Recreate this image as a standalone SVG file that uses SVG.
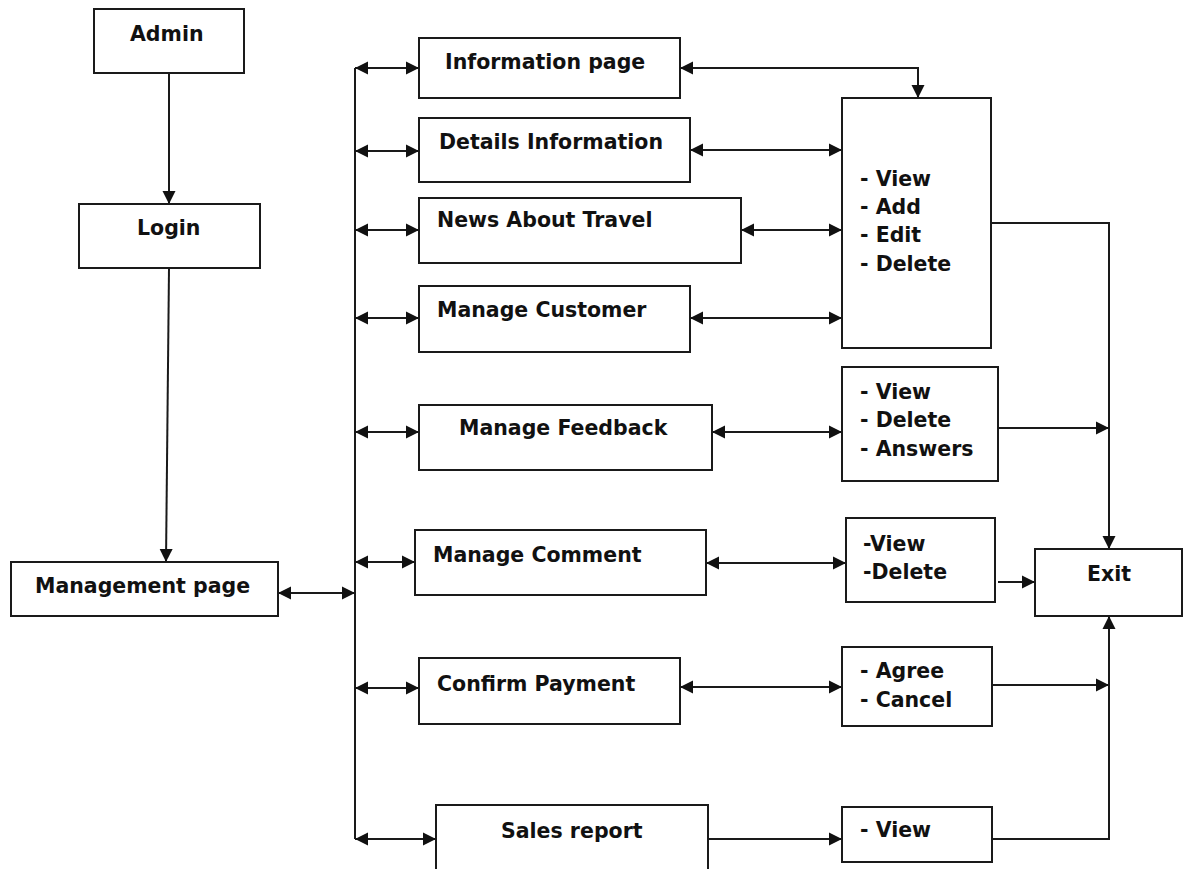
<svg xmlns="http://www.w3.org/2000/svg" width="1183" height="869" viewBox="0 0 1183 869">
<defs>
<marker id="arr" markerUnits="userSpaceOnUse" markerWidth="14" markerHeight="14" viewBox="0 0 14 14" refX="13" refY="7" orient="auto-start-reverse">
<path d="M0,0.5 L13,7 L0,13.5 Z" fill="#111"/>
</marker>
</defs>
<style>
.box{fill:#fff;stroke:#1a1a1a;stroke-width:2}
.t{font-family:"DejaVu Sans","Verdana",sans-serif;font-weight:bold;font-size:20.5px;fill:#111}
.c{fill:none;stroke:#1a1a1a;stroke-width:2}
.b{marker-start:url(#arr);marker-end:url(#arr)}
.e{marker-end:url(#arr)}
</style>
<rect width="1183" height="869" fill="#fff"/>
<g id="connectors">
<line class="c e" x1="169" y1="73" x2="169" y2="204"/>
<line class="c e" x1="169" y1="268" x2="166" y2="562"/>
<line class="c b" x1="278" y1="593" x2="355" y2="593"/>
<line class="c" x1="355" y1="68" x2="355" y2="839"/>
<line class="c b" x1="355" y1="68" x2="419" y2="68"/>
<line class="c b" x1="355" y1="151" x2="419" y2="151"/>
<line class="c b" x1="355" y1="230" x2="419" y2="230"/>
<line class="c b" x1="355" y1="318" x2="419" y2="318"/>
<line class="c b" x1="355" y1="432" x2="419" y2="432"/>
<line class="c b" x1="355" y1="562" x2="415" y2="562"/>
<line class="c b" x1="355" y1="688" x2="419" y2="688"/>
<line class="c b" x1="355" y1="839" x2="436" y2="839"/>
<path class="c b" d="M680,68 L918,68 L918,98"/>
<line class="c b" x1="690" y1="150" x2="842" y2="150"/>
<line class="c b" x1="741" y1="230" x2="842" y2="230"/>
<line class="c b" x1="690" y1="318" x2="842" y2="318"/>
<path class="c e" d="M991,223 L1109,223 L1109,549"/>
<line class="c b" x1="712" y1="432" x2="842" y2="432"/>
<line class="c e" x1="998" y1="428" x2="1109" y2="428"/>
<line class="c b" x1="706" y1="563" x2="846" y2="563"/>
<line class="c e" x1="998" y1="582" x2="1035" y2="582"/>
<line class="c b" x1="680" y1="687" x2="842" y2="687"/>
<line class="c e" x1="992" y1="685" x2="1109" y2="685"/>
<line class="c e" x1="708" y1="839" x2="842" y2="839"/>
<path class="c e" d="M992,839 L1109,839 L1109,616"/>
</g>
<g id="admin"><rect class="box" x="94" y="9" width="150" height="64"/><text class="t" x="130" y="41">Admin</text></g>
<g id="login"><rect class="box" x="79" y="204" width="181" height="64"/><text class="t" x="137" y="235">Login</text></g>
<g id="management"><rect class="box" x="11" y="562" width="267" height="54"/><text class="t" x="35" y="593">Management page</text></g>
<g id="information"><rect class="box" x="419" y="38" width="261" height="60"/><text class="t" x="445" y="69">Information page</text></g>
<g id="details"><rect class="box" x="419" y="118" width="271" height="64"/><text class="t" x="439" y="149">Details Information</text></g>
<g id="news"><rect class="box" x="419" y="198" width="322" height="65"/><text class="t" x="437" y="227">News About Travel</text></g>
<g id="customer"><rect class="box" x="419" y="286" width="271" height="66"/><text class="t" x="437" y="317">Manage Customer</text></g>
<g id="feedback"><rect class="box" x="419" y="405" width="293" height="65"/><text class="t" x="459" y="435">Manage Feedback</text></g>
<g id="comment"><rect class="box" x="415" y="530" width="291" height="65"/><text class="t" x="433" y="562">Manage Comment</text></g>
<g id="payment"><rect class="box" x="419" y="658" width="261" height="66"/><text class="t" x="437" y="691">Confirm Payment</text></g>
<g id="sales"><rect class="box" x="436" y="805" width="272" height="80"/><text class="t" x="501" y="838">Sales report</text></g>
<g id="crud"><rect class="box" x="842" y="98" width="149" height="250"/>
<text class="t" x="860" y="186">- View</text><text class="t" x="860" y="214">- Add</text><text class="t" x="860" y="242">- Edit</text><text class="t" x="860" y="271">- Delete</text></g>
<g id="feedback-ops"><rect class="box" x="842" y="367" width="156" height="114"/>
<text class="t" x="860" y="399">- View</text><text class="t" x="860" y="427">- Delete</text><text class="t" x="860" y="456">- Answers</text></g>
<g id="comment-ops"><rect class="box" x="846" y="518" width="149" height="84"/>
<text class="t" x="863" y="551">-View</text><text class="t" x="863" y="579">-Delete</text></g>
<g id="exit"><rect class="box" x="1035" y="549" width="147" height="67"/><text class="t" x="1087" y="581">Exit</text></g>
<g id="payment-ops"><rect class="box" x="842" y="647" width="150" height="79"/>
<text class="t" x="860" y="678">- Agree</text><text class="t" x="860" y="707">- Cancel</text></g>
<g id="sales-ops"><rect class="box" x="842" y="807" width="150" height="55"/><text class="t" x="860" y="837">- View</text></g>
</svg>
